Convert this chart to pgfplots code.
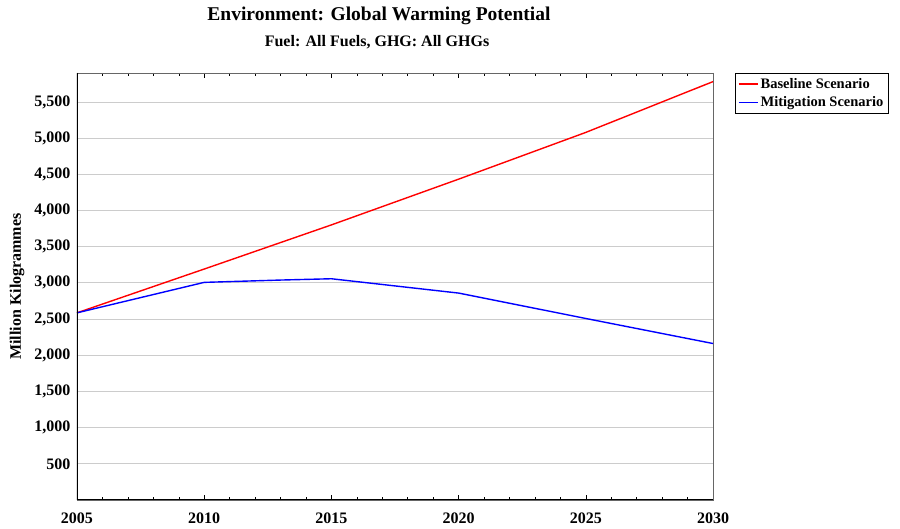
\documentclass[border=0pt]{standalone}
\usepackage{fontspec}
\setmainfont{Liberation Serif}
\usepackage{pgfplots}
\pgfplotsset{compat=1.18}

\begin{document}
\begin{tikzpicture}[x=1pt,y=1pt]
\useasboundingbox (-77,-29) rectangle (823,500);
\begin{axis}[
    at={(0,0)}, anchor=south west,
    scale only axis,
    width=636pt, height=427pt,
    xmin=2005, xmax=2030,
    ymin=0, ymax=5900,
    xtick={2005,2010,...,2030},
    minor x tick num=4,
    ytick={500,1000,...,5500},
    ymajorgrids,
    major grid style={gray!40, line width=0.8pt},
    axis line style={gray!80!black, line width=0.6pt},
    major y tick style={draw=none},
    major x tick style={black, line width=0.6pt},
    minor x tick style={black, line width=0.5pt},
    major tick length=5pt, minor tick length=3pt,
    /pgf/number format/assume math mode=true,
    /pgf/number format/1000 sep={,},
    x tick label style={/pgf/number format/1000 sep=, yshift=-9pt},
    tick label style={font=\bfseries\fontsize{16}{16}\selectfont},
    yticklabel style={xshift=-3pt},
    legend style={
        at={(rel axis cs:1,1)}, anchor=north west, xshift=22pt, yshift=0pt,
        draw=black, fill=white,
        font=\bfseries\fontsize{14.5}{18}\selectfont,
        row sep=3pt, inner sep=3pt,
        legend cell align=left,
    },
    legend image code/.code={
        \path (0pt,0pt) -- (19pt,0pt);
        \draw[#1] (0pt,0pt) -- (14pt,0pt);},
]
\addlegendimage{red, line width=1.4pt}
\addlegendentry{Baseline Scenario}
\addlegendimage{blue, line width=1.4pt}
\addlegendentry{Mitigation Scenario}
\addplot[red, line width=1.4pt, forget plot] coordinates {
    (2005,2586) (2010,3191) (2015,3801) (2020,4433) (2025,5079) (2030,5781)
};
\addplot[blue, line width=1.4pt, forget plot] coordinates {
    (2005,2586) (2010,3007) (2013,3039) (2015,3057) (2020,2859) (2025,2508) (2030,2162)
};
\draw[black, line width=1.6pt] (rel axis cs:0,1) -- (rel axis cs:0,0) -- (rel axis cs:1,0);
\end{axis}
\node[rotate=90, font=\bfseries\fontsize{16}{16}\selectfont] at (-60,213.5) {Million Kilogrammes};
\node[font=\bfseries\fontsize{19.5}{19.5}\selectfont] at (302,484) {Environment: Global Warming Potential};
\node[font=\bfseries\fontsize{16}{16}\selectfont] at (300,458) {Fuel: All Fuels, GHG: All GHGs};
\end{tikzpicture}
\end{document}
